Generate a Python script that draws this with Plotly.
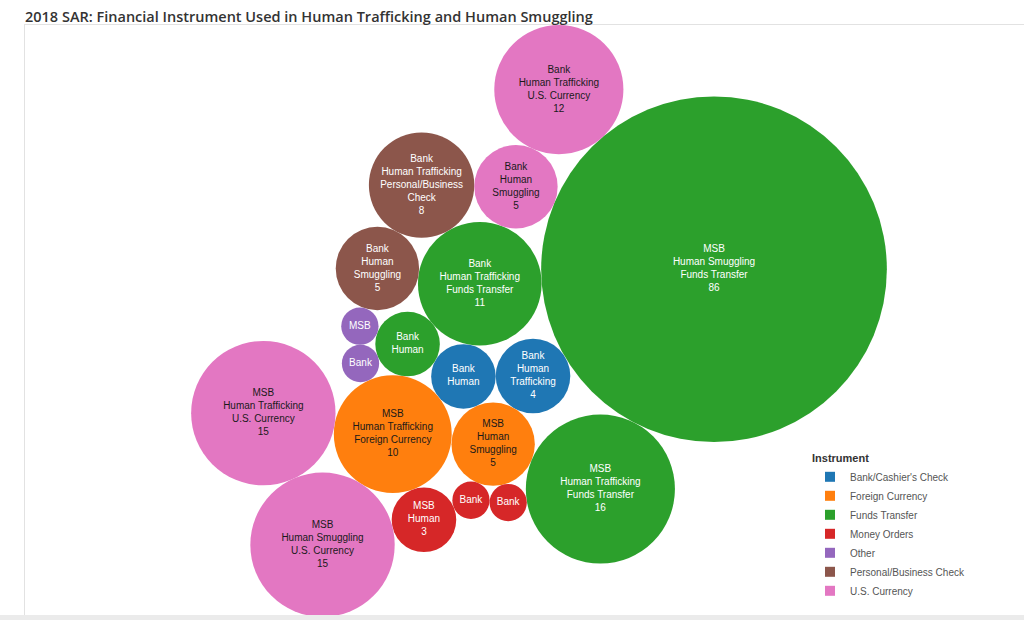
import math
import plotly.graph_objects as go

# ---------------- data ----------------
labels = [
    "MSB<br>Human Smuggling<br>Funds Transfer<br>86",
    "Bank<br>Human Trafficking<br>Funds Transfer<br>11",
    "Bank<br>Human<br>Smuggling<br>5",
    "Bank<br>Human Trafficking<br>U.S. Currency<br>12",
    "Bank<br>Human Trafficking<br>Personal/Business<br>Check<br>8",
    "Bank<br>Human<br>Smuggling<br>5",
    "Bank<br>Human<br>Trafficking<br>4",
    "Bank<br>Human",
    "MSB<br>Human<br>Smuggling<br>5",
    "MSB<br>Human Trafficking<br>Funds Transfer<br>16",
    "Bank<br>Human",
    "MSB",
    "Bank",
    "MSB<br>Human Trafficking<br>Foreign Currency<br>10",
    "Bank",
    "Bank",
    "MSB<br>Human<br>3",
    "MSB<br>Human Smuggling<br>U.S. Currency<br>15",
    "MSB<br>Human Trafficking<br>U.S. Currency<br>15",
]
instruments = [
    "Funds Transfer", "Funds Transfer", "U.S. Currency", "U.S. Currency",
    "Personal/Business Check", "Personal/Business Check", "Bank/Cashier's Check",
    "Bank/Cashier's Check", "Foreign Currency", "Funds Transfer", "Funds Transfer",
    "Other", "Other", "Foreign Currency", "Money Orders", "Money Orders",
    "Money Orders", "U.S. Currency", "U.S. Currency",
]
counts = [86, 11, 5, 12, 8, 5, 4, 3, 5, 16, 3, 1, 1, 10, 1, 1, 3, 15, 15]

legend_instruments = [
    "Bank/Cashier's Check", "Foreign Currency", "Funds Transfer", "Money Orders",
    "Other", "Personal/Business Check", "U.S. Currency",
]
palette = ["#1f77b4", "#ff7f0e", "#2ca02c", "#d62728", "#9467bd", "#8c564b", "#e377c2"]

TITLE = "2018 SAR: Financial Instrument Used in Human Trafficking and Human Smuggling"

# ---------------- packed-bubble layout (computed from the counts) ----------------
# Each bubble's area is proportional to its count.  Bubbles are packed one after
# another, each tangent to two already placed bubbles (side +1 / -1), or tangent
# to one bubble in a given direction (degrees, clockwise from east on screen).
PACK_STEPS = [
    (1, 0, None, 176.46),
    (2, 0, 1, +1),
    (3, 0, 2, +1),
    (4, 2, 1, +1),
    (5, 4, 1, +1),
    (6, 0, None, 149.47),
    (7, 6, 1, -1),
    (8, 6, 7, -1),
    (9, 0, 8, -1),
    (10, 1, 7, +1),
    (11, 5, 10, +1),
    (12, 11, 10, +1),
    (13, 7, 10, -1),
    (14, 9, 8, -1),
    (15, 8, 14, +1),
    (16, 13, 15, +1),
    (17, 13, 16, +1),
    (18, 13, 17, +1),
]


def tangent_to_two(pa, ra, pb, rb, r, side):
    dx, dy = pb[0] - pa[0], pb[1] - pa[1]
    d = math.hypot(dx, dy)
    da, db = ra + r, rb + r
    a = (da * da - db * db + d * d) / (2 * d)
    h = math.sqrt(max(da * da - a * a, 0.0))
    ux, uy = dx / d, dy / d
    return (pa[0] + a * ux - side * h * uy, pa[1] + a * uy + side * h * ux)


radius_u = [math.sqrt(c) for c in counts]
pos = [None] * len(counts)
pos[0] = (0.0, 0.0)
for new, a, b, param in PACK_STEPS:
    if b is None:
        ang = math.radians(param)
        dist = radius_u[a] + radius_u[new]
        pos[new] = (pos[a][0] + dist * math.cos(ang), pos[a][1] + dist * math.sin(ang))
    else:
        pos[new] = tangent_to_two(pos[a], radius_u[a], pos[b], radius_u[b], radius_u[new], param)

# ---------------- page geometry (pixels) ----------------
W, H = 1024, 620
M_L, M_T, M_R, M_B = 25, 25, 0, 3
PLOT_W = W - M_L - M_R
PLOT_H = H - M_T - M_B
PANE_W = 1028  # the view pane is slightly wider than the visible page

minx = min(p[0] - r for p, r in zip(pos, radius_u))
maxx = max(p[0] + r for p, r in zip(pos, radius_u))
miny = min(p[1] - r for p, r in zip(pos, radius_u))
maxy = max(p[1] + r for p, r in zip(pos, radius_u))
scale = PLOT_H / (maxy - miny)          # fit the pack to the pane height
cx, cy = (minx + maxx) / 2, (miny + maxy) / 2

xs = [(p[0] - cx) * scale for p in pos]
ys = [(p[1] - cy) * scale for p in pos]
diam = [2 * r * scale for r in radius_u]

color_of = dict(zip(legend_instruments, palette))


def text_color(hex_color):
    r, g, b = int(hex_color[1:3], 16), int(hex_color[3:5], 16), int(hex_color[5:7], 16)
    return "#1a1a1a" if 0.299 * r + 0.587 * g + 0.114 * b > 140 else "#ffffff"


fig = go.Figure()

for inst in legend_instruments:
    idx = [i for i, v in enumerate(instruments) if v == inst]
    col = color_of[inst]
    fig.add_trace(go.Scatter(
        x=[xs[i] for i in idx],
        y=[ys[i] for i in idx],
        mode="markers+text",
        marker=dict(size=[diam[i] for i in idx], sizemode="diameter", color=col,
                    line=dict(width=0), opacity=1),
        text=[labels[i] for i in idx],
        textposition="middle center",
        textfont=dict(family="Liberation Sans, Arial, sans-serif", size=10,
                      color=text_color(col)),
        customdata=[[labels[i].replace("<br>", " "), inst, counts[i]] for i in idx],
        hovertemplate="%{customdata[0]}<br>Instrument: %{customdata[1]}"
                      "<br>Count: %{customdata[2]}<extra></extra>",
        legendgroup=inst,
        showlegend=False,
        cliponaxis=False,
    ))

for inst in legend_instruments:
    fig.add_trace(go.Scatter(
        x=[None], y=[None], mode="markers",
        marker=dict(symbol="square", size=10, color=color_of[inst]),
        name=inst, legendgroup=inst, showlegend=True, hoverinfo="skip",
    ))

fig.update_layout(
    width=W, height=H, autosize=False,
    margin=dict(l=M_L, r=M_R, t=M_T, b=M_B, pad=0),
    paper_bgcolor="#ffffff", plot_bgcolor="#ffffff",
    title=dict(text=TITLE, xref="container", x=25 / W, xanchor="left",
               yref="container", y=1 - 17 / H, yanchor="middle",
               font=dict(family="Open Sans, Lato, sans-serif", size=14.5,
                         color="#333333", weight=600)),
    xaxis=dict(range=[-PANE_W / 2, -PANE_W / 2 + PLOT_W], showgrid=False,
               zeroline=False, showticklabels=False, ticks="", showline=True,
               linecolor="#e2e2e2", linewidth=1, side="top", fixedrange=True),
    yaxis=dict(range=[PLOT_H / 2, -PLOT_H / 2], showgrid=False, zeroline=False,
               showticklabels=False, ticks="", showline=True, linecolor="#e2e2e2",
               linewidth=1, fixedrange=True),
    legend=dict(
        title=dict(text="<b>Instrument</b>",
                   font=dict(family="Liberation Sans, Arial, sans-serif", size=11,
                             color="#333333")),
        font=dict(family="Liberation Sans, Arial, sans-serif", size=10, color="#555555"),
        x=(810 - M_L) / PLOT_W, xanchor="left",
        y=(PLOT_H + M_T - 527) / PLOT_H, yanchor="middle",
        bgcolor="rgba(0,0,0,0)", tracegroupgap=0, itemsizing="trace",
    ),
    shapes=[dict(type="rect", xref="paper", yref="paper",
                 x0=-M_L / PLOT_W, x1=1.0,
                 y0=(M_T + PLOT_H - 615) / PLOT_H,
                 y1=-M_B / PLOT_H,
                 fillcolor="#ebebeb", line=dict(width=0), layer="above")],
    hovermode="closest",
)

fig.write_html("out.html",
               config={"displayModeBar": False},
               post_script="document.body.style.margin='0';document.body.style.overflow='hidden';")
